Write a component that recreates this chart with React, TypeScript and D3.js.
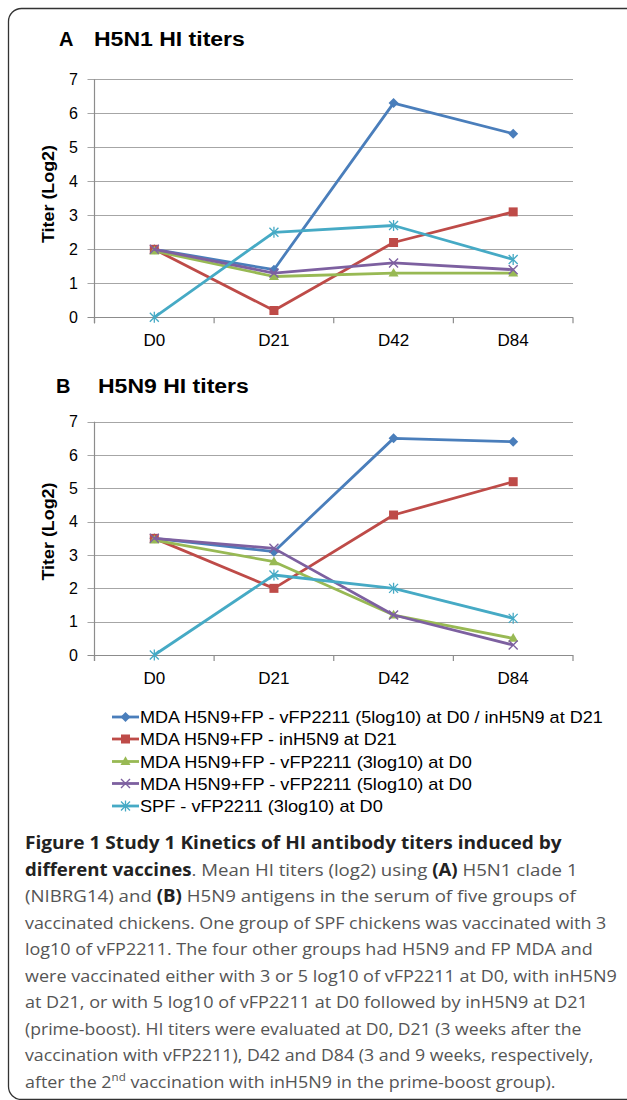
import React, { useLayoutEffect, useRef, useState } from 'react';
import * as d3 from 'd3';

const days = ['D0', 'D21', 'D42', 'D84'];
const yTicks = [0, 1, 2, 3, 4, 5, 6, 7];

const seriesNames = [
  'MDA H5N9+FP - vFP2211 (5log10) at D0 / inH5N9 at D21',
  'MDA H5N9+FP - inH5N9 at D21',
  'MDA H5N9+FP - vFP2211 (3log10) at D0',
  'MDA H5N9+FP - vFP2211 (5log10) at D0',
  'SPF - vFP2211 (3log10) at D0',
];
const seriesColors = ['#4A7EBB', '#BE4B48', '#98B954', '#7D60A0', '#46AAC5'];
const seriesMarkers = ['diamond', 'square', 'triangle', 'x', 'star'];

// Panel A: H5N1 HI titers
const h5n1Prime = [2.0, 1.4, 6.3, 5.4];
const h5n1Inact = [2.0, 0.2, 2.2, 3.1];
const h5n1Low = [1.95, 1.2, 1.3, 1.3];
const h5n1High = [2.0, 1.3, 1.6, 1.4];
const h5n1Spf = [0.0, 2.5, 2.7, 1.7];

// Panel B: H5N9 HI titers
const h5n9Prime = [3.5, 3.1, 6.5, 6.4];
const h5n9Inact = [3.5, 2.0, 4.2, 5.2];
const h5n9Low = [3.45, 2.8, 1.2, 0.5];
const h5n9High = [3.5, 3.2, 1.2, 0.3];
const h5n9Spf = [0.0, 2.4, 2.0, 1.1];

const panelA = [h5n1Prime, h5n1Inact, h5n1Low, h5n1High, h5n1Spf];
const panelB = [h5n9Prime, h5n9Inact, h5n9Low, h5n9High, h5n9Spf];

const CHART_FONT = '"Liberation Sans", Arial, Helvetica, sans-serif';
const CAPTION_FONT = '"Open Sans", "Noto Sans", sans-serif';

function FitText(props: any) {
  const { x, y, width, rotate, anchor, style, children, fill, fontSize, fontWeight, fontFamily } = props;
  const ref = useRef<SVGTextElement>(null);
  const [sx, setSx] = useState(1);
  useLayoutEffect(() => {
    if (ref.current) {
      const w = ref.current.getComputedTextLength();
      if (w > 0 && width) setSx(width / w);
    }
  }, [width]);
  const tr = `translate(${x},${y})${rotate ? ` rotate(${rotate})` : ''} scale(${sx},1)`;
  return (
    <text
      ref={ref}
      transform={tr}
      textAnchor={anchor || 'start'}
      fill={fill || '#000'}
      fontSize={fontSize}
      fontWeight={fontWeight}
      fontFamily={fontFamily}
      style={style}
    >
      {children}
    </text>
  );
}

function Marker({ type, cx, cy, color }: { type: string; cx: number; cy: number; color: string }) {
  if (type === 'diamond') {
    const r = 5;
    return <path d={`M${cx},${cy - r}L${cx + r},${cy}L${cx},${cy + r}L${cx - r},${cy}Z`} fill={color} />;
  }
  if (type === 'square') {
    const s = 9;
    return <rect x={cx - s / 2} y={cy - s / 2} width={s} height={s} fill={color} />;
  }
  if (type === 'triangle') {
    const s = 10;
    const h = s * 0.87;
    return (
      <path
        d={`M${cx},${cy - h * 0.6}L${cx + s / 2},${cy + h * 0.4}L${cx - s / 2},${cy + h * 0.4}Z`}
        fill={color}
      />
    );
  }
  if (type === 'x') {
    const r = 4.5;
    return (
      <path
        d={`M${cx - r},${cy - r}L${cx + r},${cy + r}M${cx - r},${cy + r}L${cx + r},${cy - r}`}
        stroke={color}
        strokeWidth={1.4}
        fill="none"
      />
    );
  }
  // star (asterisk)
  const r = 4.5;
  return (
    <path
      d={`M${cx - r},${cy - r}L${cx + r},${cy + r}M${cx - r},${cy + r}L${cx + r},${cy - r}M${cx},${cy - r - 1}L${cx},${cy + r + 1}`}
      stroke={color}
      strokeWidth={1.3}
      fill="none"
    />
  );
}

function Panel(props: {
  data: number[][];
  letter: string;
  title: string;
  letterX: number;
  titleX: number;
  titleY: number;
  yTop: number;
  yBottom: number;
  labelY: number;
  yTitleY: number;
}) {
  const { data, letter, title, letterX, titleX, titleY, yTop, yBottom, labelY, yTitleY } = props;
  const x0 = 94.5;
  const x1 = 573;
  const x = d3.scaleBand<string>().domain(days).range([x0, x1]);
  const y = d3.scaleLinear().domain([0, 7]).range([yBottom, yTop]);
  const cx = (d: string) => (x(d) as number) + x.bandwidth() / 2;
  const line = d3
    .line<number>()
    .x((_, i) => cx(days[i]))
    .y((v) => y(v));
  const boundaries = days.map((d) => x(d) as number).concat([x1]);

  return (
    <g fontFamily={CHART_FONT}>
      <text x={letterX} y={titleY} fontSize={20} fontWeight="bold" fill="#000">
        {letter}
      </text>
      <FitText x={titleX} y={titleY} width={151} fontSize={20} fontWeight="bold" fontFamily={CHART_FONT}>
        {title}
      </FitText>
      {/* gridlines */}
      {yTicks.map((t) => (
        <line
          key={'g' + t}
          x1={x0 - 7}
          x2={x1}
          y1={Math.round(y(t)) + 0.5}
          y2={Math.round(y(t)) + 0.5}
          stroke={t === 0 ? '#8C8C8C' : '#A6A6A6'}
          strokeWidth={1.2}
        />
      ))}
      {/* y axis */}
      <line x1={x0} x2={x0} y1={y(7)} y2={y(0) + 6} stroke="#8C8C8C" strokeWidth={1.2} />
      {boundaries.map((b, i) => (
        <line key={'t' + i} x1={b} x2={b} y1={y(0)} y2={y(0) + 6} stroke="#8C8C8C" strokeWidth={1.2} />
      ))}
      {yTicks.map((t) => (
        <text key={'yl' + t} x={78} y={y(t)} dy="0.36em" textAnchor="end" fontSize={16} fill="#000">
          {t}
        </text>
      ))}
      {days.map((d) => (
        <text key={'xl' + d} x={cx(d)} y={labelY} textAnchor="middle" fontSize={17} fill="#000">
          {d}
        </text>
      ))}
      <FitText
        x={54}
        y={yTitleY}
        rotate={-90}
        width={98}
        anchor="middle"
        fontSize={17}
        fontWeight="bold"
        fontFamily={CHART_FONT}
      >
        Titer (Log2)
      </FitText>
      {data.map((s, si) => (
        <g key={'s' + si}>
          <path d={line(s) || ''} fill="none" stroke={seriesColors[si]} strokeWidth={2.8} strokeLinejoin="round" />
          {s.map((v, i) => (
            <Marker key={i} type={seriesMarkers[si]} cx={cx(days[i])} cy={y(v)} color={seriesColors[si]} />
          ))}
        </g>
      ))}
    </g>
  );
}

const legendWidths = [463, 257, 332, 332, 243];

const captionLines: { parts: { t: string; b?: boolean; sup?: boolean }[]; w: number }[] = [
  { parts: [{ t: 'Figure 1 Study 1 Kinetics of HI antibody titers induced by', b: true }], w: 537 },
  {
    parts: [
      { t: 'different vaccines', b: true },
      { t: '. Mean HI titers (log2) using ' },
      { t: '(A)', b: true },
      { t: ' H5N1 clade 1' },
    ],
    w: 553,
  },
  {
    parts: [{ t: '(NIBRG14) and ' }, { t: '(B)', b: true }, { t: ' H5N9 antigens in the serum of five groups of' }],
    w: 551,
  },
  { parts: [{ t: 'vaccinated chickens. One group of SPF chickens was vaccinated with 3' }], w: 582 },
  { parts: [{ t: 'log10 of vFP2211. The four other groups had H5N9 and FP MDA and' }], w: 568 },
  { parts: [{ t: 'were vaccinated either with 3 or 5 log10 of vFP2211 at D0, with inH5N9' }], w: 592 },
  { parts: [{ t: 'at D21, or with 5 log10 of vFP2211 at D0 followed by inH5N9 at D21' }], w: 563 },
  { parts: [{ t: '(prime-boost). HI titers were evaluated at D0, D21 (3 weeks after the' }], w: 557 },
  { parts: [{ t: 'vaccination with vFP2211), D42 and D84 (3 and 9 weeks, respectively,' }], w: 569 },
  {
    parts: [
      { t: 'after the 2' },
      { t: 'nd', sup: true },
      { t: ' vaccination with inH5N9 in the prime-boost group).' },
    ],
    w: 531,
  },
];

export default function App() {
  const legendRowY = [717, 739, 761.5, 783.5, 806];
  return (
    <svg
      width={627}
      height={1100}
      viewBox="0 0 627 1100"
      style={{ position: 'absolute', left: 0, top: 0, display: 'block', background: '#fff' }}
    >
      <rect x={0} y={0} width={627} height={1100} fill="#fff" />
      <rect x={8.5} y={8.5} width={640} height={1091} rx={13} ry={13} fill="none" stroke="#333" strokeWidth={1.3} />
      <Panel
        data={panelA}
        letter="A"
        title="H5N1 HI titers"
        letterX={59}
        titleX={94}
        titleY={45.5}
        yTop={79.3}
        yBottom={317.3}
        labelY={346}
        yTitleY={194}
      />
      <Panel
        data={panelB}
        letter="B"
        title="H5N9 HI titers"
        letterX={56}
        titleX={98}
        titleY={393}
        yTop={421.7}
        yBottom={655}
        labelY={684}
        yTitleY={531.5}
      />
      {/* legend */}
      <g fontFamily={CHART_FONT}>
        {seriesNames.map((n, i) => (
          <g key={'lg' + i}>
            <line x1={112} x2={139} y1={legendRowY[i]} y2={legendRowY[i]} stroke={seriesColors[i]} strokeWidth={2.8} />
            <Marker type={seriesMarkers[i]} cx={125.5} cy={legendRowY[i]} color={seriesColors[i]} />
            <FitText x={140} y={legendRowY[i] + 6} width={legendWidths[i]} fontSize={17} fontFamily={CHART_FONT}>
              {n}
            </FitText>
          </g>
        ))}
      </g>
      {/* caption */}
      <g>
        {captionLines.map((ln, i) => (
          <FitText
            key={'c' + i}
            x={25}
            y={849 + i * 26.55}
            width={ln.w}
            fontSize={17}
            fontFamily={CAPTION_FONT}
            fill="#555"
          >
            {ln.parts.map((p, j) =>
              p.sup ? (
                <tspan key={j} fontSize={11} dy={-7}>
                  {p.t}
                </tspan>
              ) : (
                <tspan
                  key={j}
                  fontWeight={p.b ? 'bold' : 'normal'}
                  fill={p.b ? '#222' : '#555'}
                  dy={j > 0 && ln.parts[j - 1].sup ? 7 : 0}
                >
                  {p.t}
                </tspan>
              )
            )}
          </FitText>
        ))}
      </g>
    </svg>
  );
}
